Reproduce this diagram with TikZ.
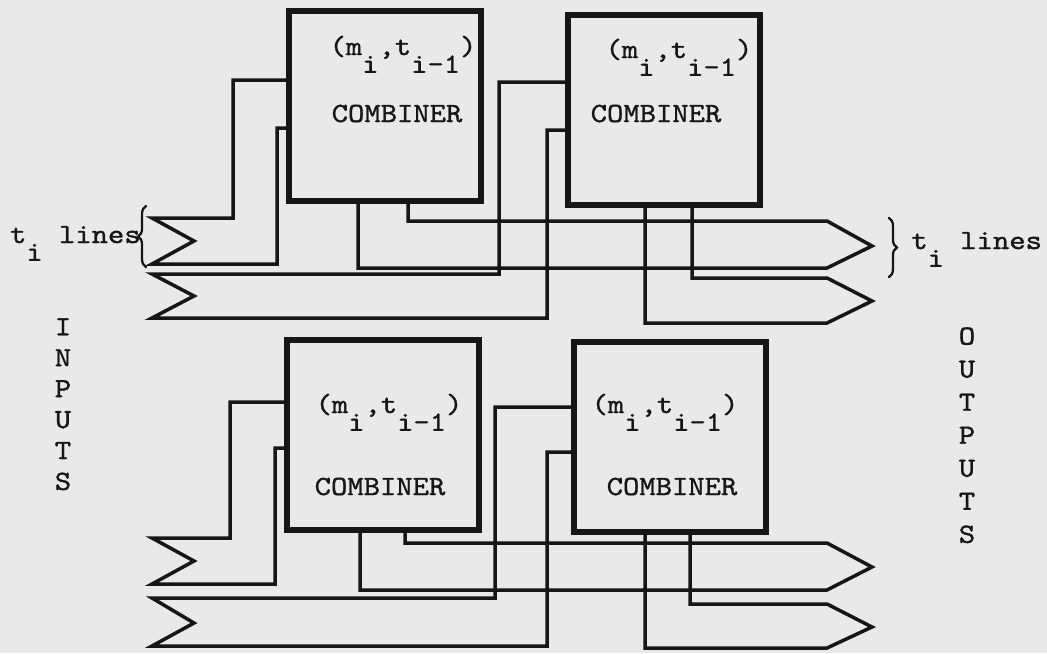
\documentclass[tikz,border=0pt]{standalone}
\usepackage{fontspec}
\newfontfamily\typewriter[FakeStretch=1.12,FakeBold=1.2]{lmmono10-regular.otf}
\usepackage{tikz}
\usetikzlibrary{positioning,decorations.pathreplacing}
\definecolor{paper}{RGB}{233,233,233}
\definecolor{ink}{RGB}{22,22,22}
\newcommand{\tsub}[1]{\raisebox{-0.64em}{#1}}

\begin{document}
\begin{tikzpicture}[x=0.02cm, y=-0.02cm,
    combiner/.style={draw=ink, line width=0.11cm, minimum width=3.84cm, minimum height=3.8cm, inner sep=0pt},
    wire/.style={draw=ink, line width=0.07cm},
    typed/.style={font=\typewriter\fontsize{15.8}{17.6}\selectfont, text=ink, inner sep=0pt},
    bundle/.style={draw=ink, line width=0.045cm, line cap=round, decorate, decoration={brace, amplitude=4.5pt}}
]
    % paper
    \fill[paper] (0,0) rectangle (1047,653);
    \useasboundingbox (0,0) rectangle (1047,653);

    % line ends at the left (inputs) and right (outputs)
    \coordinate (inA1) at (152,218);  \coordinate (inAtip) at (194,241);  \coordinate (inA2) at (152,264);
    \coordinate (inB1) at (152,274);  \coordinate (inBtip) at (194,296);  \coordinate (inB2) at (152,318);
    \coordinate (inC1) at (152,538);  \coordinate (inCtip) at (194,561);  \coordinate (inC2) at (152,584);
    \coordinate (inD1) at (152,598);  \coordinate (inDtip) at (194,623);  \coordinate (inD2) at (152,646);
    \coordinate (outP1) at (827,221); \coordinate (outPtip) at (872,246); \coordinate (outP2) at (827,268);
    \coordinate (outQ1) at (827,278); \coordinate (outQtip) at (872,301); \coordinate (outQ2) at (827,323);
    \coordinate (outR1) at (827,543); \coordinate (outRtip) at (872,567); \coordinate (outR2) at (827,590);
    \coordinate (outS1) at (827,604); \coordinate (outStip) at (872,627); \coordinate (outS2) at (827,648);

    % combiners
    \node[combiner] (c1) at (385,106) {};
    \node[combiner] (c2) at (664,110) {};
    \node[combiner] (c3) at (383,435) {};
    \node[combiner] (c4) at (670,437) {};

    \node[typed, anchor=base] (c1pair) at (403,55)  {(m\tsub{i},t\tsub{i-1})};
    \node[typed, anchor=base] (c1name) at (397,122) {COMBINER};
    \node[typed, anchor=base] (c2pair) at (679,58)  {(m\tsub{i},t\tsub{i-1})};
    \node[typed, anchor=base] (c2name) at (656,122) {COMBINER};
    \node[typed, anchor=base] (c3pair) at (389,413) {(m\tsub{i},t\tsub{i-1})};
    \node[typed, anchor=base] (c3name) at (380,495) {COMBINER};
    \node[typed, anchor=base] (c4pair) at (665,413) {(m\tsub{i},t\tsub{i-1})};
    \node[typed, anchor=base] (c4name) at (672,495) {COMBINER};

    % upper inputs
    \draw[wire] (c1.west |- 0,80) -- (233,80) |- (inA1) -- (inAtip) -- (inA2) -| (277,128) -- (c1.west |- 0,128);
    \draw[wire] (c2.west |- 0,82) -- (499,82) |- (inB1) -- (inBtip) -- (inB2) -| (547,130) -- (c2.west |- 0,130);

    % upper outputs
    \draw[wire] (c1.south -| 408,0) |- (outP1) -- (outPtip) -- (outP2) -| (c1.south -| 358,0);
    \draw[wire] (c2.south -| 692,0) |- (outQ1) -- (outQtip) -- (outQ2) -| (c2.south -| 645,0);

    % lower inputs
    \draw[wire] (c3.west |- 0,402) -- (230,402) |- (inC1) -- (inCtip) -- (inC2) -| (275,448) -- (c3.west |- 0,448);
    \draw[wire] (c4.west |- 0,407) -- (495,407) |- (inD1) -- (inDtip) -- (inD2) -| (547,452) -- (c4.west |- 0,452);

    % lower outputs
    \draw[wire] (c3.south -| 405,0) |- (outR1) -- (outRtip) -- (outR2) -| (c3.south -| 360,0);
    \draw[wire] (c4.south -| 690,0) |- (outS1) -- (outStip) -- (outS2) -| (c4.south -| 645,0);

    % labels
    \draw[bundle] (146,267) -- (146,206);
    \node[typed, anchor=base east] (inlines) at (141,243) {t\tsub{i} lines};
    \draw[bundle] (889,218) -- (889,277);
    \node[typed, anchor=base west] (outlines) at (911,249) {t\tsub{i} lines};

    \node[typed, anchor=north, align=center] (inputs) at (63,318) {I\\N\\P\\U\\T\\S};
    \node[typed, anchor=north, align=center, font=\typewriter\fontsize{15.8}{18.8}\selectfont] (outputs) at (967,327) {O\\U\\T\\P\\U\\T\\S};
\end{tikzpicture}
\end{document}
